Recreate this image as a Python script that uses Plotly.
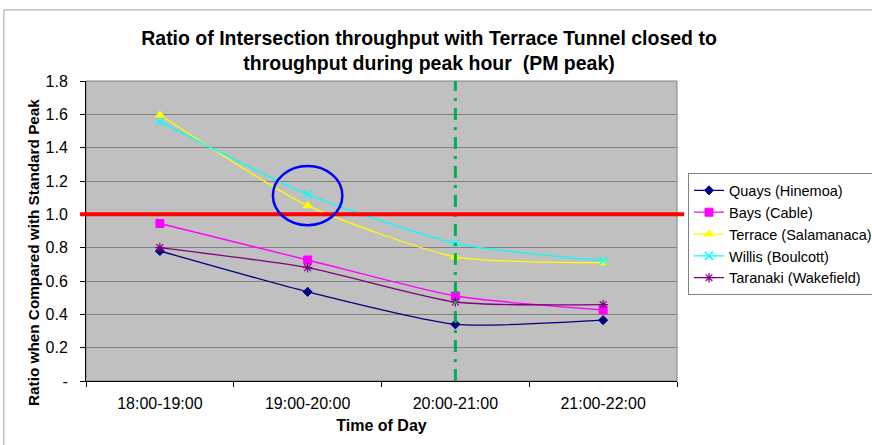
import plotly.graph_objects as go

categories = ["18:00-19:00", "19:00-20:00", "20:00-21:00", "21:00-22:00"]
quays = [0.78, 0.535, 0.34, 0.365]
bays = [0.945, 0.726, 0.51, 0.426]
terrace = [1.596, 1.052, 0.745, 0.71]
willis = [1.556, 1.12, 0.826, 0.722]
taranaki = [0.80, 0.68, 0.474, 0.458]
ytick_vals = [0, 0.2, 0.4, 0.6, 0.8, 1.0, 1.2, 1.4, 1.6, 1.8]
ytick_text = ["-", "0.2", "0.4", "0.6", "0.8", "1.0", "1.2", "1.4", "1.6", "1.8"]
threshold = 1.0
marked_period = "20:00-21:00"

series = [
    ("Quays (Hinemoa)", quays, "#000080", "diamond", 7, 1),
    ("Bays (Cable)", bays, "#FF00FF", "square", 8, 1),
    ("Terrace (Salamanaca)", terrace, "#FFFF00", "triangle-up", 8, 1),
    ("Willis (Boulcott)", willis, "#00FFFF", "x-thin", 8, 1.5),
    ("Taranaki (Wakefield)", taranaki, "#800080", "asterisk", 8, 1.2),
]

fig = go.Figure()
for name, vals, color, sym, size, lw in series:
    fig.add_trace(go.Scatter(
        x=categories, y=vals, name=name, mode="lines+markers", legendgroup=name,
        line=dict(color=color, width=1.3, shape="spline", smoothing=0.6),
        marker=dict(symbol=sym, size=size, color=color,
                    line=dict(color=color, width=lw)),
    ))

shapes = [
    dict(type="rect", xref="paper", yref="paper", x0=-0.139, x1=1.4, y0=-0.3, y1=1.237,
         line=dict(color="#A0A0A0", width=1), layer="below"),
    dict(type="rect", xref="paper", yref="paper", x0=0, x1=1, y0=0, y1=1,
         line=dict(color="#808080", width=1), layer="below"),
    dict(type="line", xref="x", yref="paper", x0=marked_period, x1=marked_period, y0=0, y1=1,
         line=dict(color="#00B050", width=3, dash="12px,7px,3px,7px")),
    dict(type="line", xref="paper", yref="y", x0=-0.01, x1=1.012, y0=threshold, y1=threshold,
         line=dict(color="#FF0000", width=4)),
    dict(type="circle", xref="x", yref="y", x0=0.765, x1=1.235, y0=0.935, y1=1.29,
         line=dict(color="#0000FF", width=2.5)),
]

fig.update_layout(
    width=872, height=445,
    margin=dict(l=86, r=195, t=81, b=64, autoexpand=False),
    paper_bgcolor="white", plot_bgcolor="#C0C0C0",
    font=dict(family="Arial, Liberation Sans, sans-serif", size=12, color="black"),
    title=dict(text="<b>Ratio of Intersection throughput with Terrace Tunnel closed to<br>throughput during peak hour  (PM peak)</b>",
               x=0.492, xanchor="center", y=0.90, yanchor="top",
               font=dict(size=19.5, family="Arial, Liberation Sans, sans-serif")),
    showlegend=True,
    legend=dict(x=1.0186, y=0.692, xanchor="left", yanchor="top",
                bordercolor="#808080", borderwidth=1, bgcolor="white",
                font=dict(size=14.5), tracegroupgap=0, itemwidth=30),
    shapes=shapes,
    annotations=[dict(text="<b>Ratio when Compared with Standard Peak</b>", textangle=-90,
                      xref="paper", yref="paper", x=-0.0897, y=0.43,
                      xanchor="center", yanchor="middle", showarrow=False,
                      font=dict(size=15.3))],
    xaxis=dict(type="category", categoryorder="array", categoryarray=categories,
               range=[-0.5, 3.5], showgrid=False, showline=True, linecolor="black", linewidth=1,
               ticks="outside", tickson="boundaries", ticklen=5, tickcolor="black",
               tickfont=dict(size=16), zeroline=False, ticklabelstandoff=8,
               title=dict(text="<b>Time of Day</b>", font=dict(size=16), standoff=8)),
    yaxis=dict(range=[0, 1.8], tickvals=ytick_vals, ticktext=ytick_text,
               showgrid=True, gridcolor="#808080", gridwidth=1, zeroline=False,
               showline=True, linecolor="black", linewidth=1, ticklabelstandoff=9,
               ticks="outside", ticklen=5, tickcolor="black", tickfont=dict(size=16)),
)

fig.write_html("out.html", config={"displayModeBar": False},
               post_script="document.body.style.margin='0';")
